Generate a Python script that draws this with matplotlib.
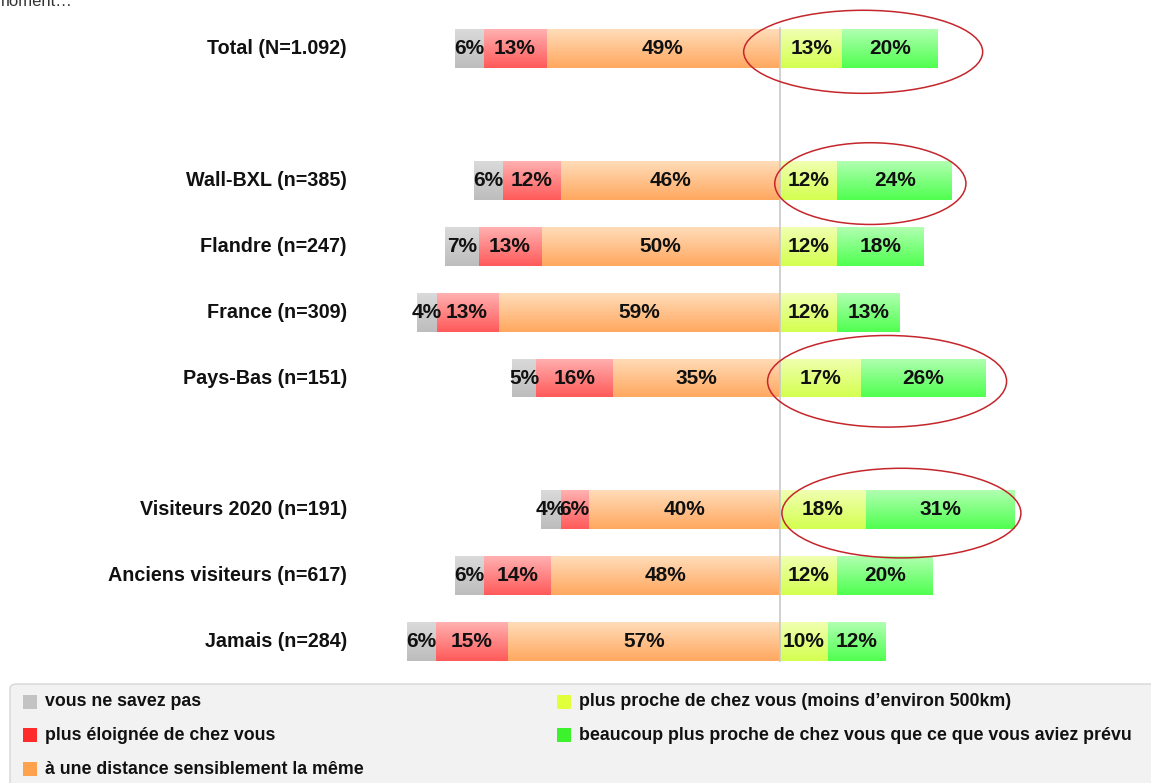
import numpy as np
import matplotlib
matplotlib.use("Agg")
import matplotlib.pyplot as plt
from matplotlib.colors import LinearSegmentedColormap
from matplotlib.patches import Ellipse, FancyBboxPatch, Rectangle

plt.rcParams['font.family'] = ['Liberation Sans', 'DejaVu Sans']

# données
groupes = ["Total (N=1.092)", "Wall-BXL (n=385)", "Flandre (n=247)", "France (n=309)",
           "Pays-Bas (n=151)", "Visiteurs 2020 (n=191)", "Anciens visiteurs (n=617)",
           "Jamais (n=284)"]
rangs = [0, 2, 3, 4, 5, 7, 8, 9]
ne_sait_pas = [6, 6, 7, 4, 5, 4, 6, 6]
plus_eloignee = [13, 12, 13, 13, 16, 6, 14, 15]
meme_distance = [49, 46, 50, 59, 35, 40, 48, 57]
plus_proche = [13, 12, 12, 12, 17, 18, 12, 10]
beaucoup_plus_proche = [20, 24, 18, 13, 26, 31, 20, 12]

legende = ["vous ne savez pas", "plus éloignée de chez vous",
           "à une distance sensiblement la même",
           "plus proche de chez vous (moins d\u2019environ 500km)",
           "beaucoup plus proche de chez vous que ce que vous aviez prévu"]

# rangs entourés en rouge et taille des ellipses
cercles_rangs = [0, 2, 5, 7]
cercles_larg = [50, 40, 50, 50]
cercles_haut = [1.26, 1.24, 1.39, 1.36]

# couleurs: (haut, bas) du dégradé, couleur de légende
degrades = [("#dadada", "#bdbdbd"), ("#ffb0b0", "#ff5a5a"), ("#ffdcb8", "#ffa860"),
            ("#f0ffb0", "#d4ff50"), ("#b0ffb0", "#50ff50")]
leg_couleurs = ["#c3c3c3", "#ff2a2a", "#ffa24e", "#e2ff3c", "#3cf22c"]

W, H = 1151, 783
fig = plt.figure(figsize=(W / 100, H / 100), dpi=100)

px_per = 4.78
x0 = 780
row_px = 65.9
y0 = 48.5
ax = fig.add_axes([360 / W, 1 - 670 / H, (W - 360) / W, 670 / H])
ax.set_xlim((360 - x0) / px_per, (W - x0) / px_per)
ax.set_ylim((670 - y0) / row_px, -y0 / row_px)
ax.axis('off')

y = np.array(rangs, dtype=float)
h = 0.59
gauche = [np.array(ne_sait_pas), np.array(plus_eloignee), np.array(meme_distance)]
droite = [np.array(plus_proche), np.array(beaucoup_plus_proche)]

grad = np.linspace(0, 1, 50).reshape(-1, 1)


def barres(starts, widths, k):
    cmap = LinearSegmentedColormap.from_list("c%d" % k, degrades[k])
    bars = ax.barh(y, widths, left=starts, height=h, color=degrades[k][1], linewidth=0)
    for b in bars:
        bx, by = b.get_x(), b.get_y()
        bw, bh = b.get_width(), b.get_height()
        im = ax.imshow(grad, cmap=cmap, aspect='auto', extent=(bx, bx + bw, by + bh, by),
                       zorder=2, interpolation='bilinear')
        im.set_clip_path(b)
    for yy, s, w in zip(y, starts, widths):
        ax.text(s + w / 2, yy, "%d%%" % w, ha='center', va='center', fontsize=15,
                fontweight='bold', color='#111111', zorder=4)


# gauche: orange au centre, puis rouge, puis gris
pos = np.zeros(len(y))
pos = pos - gauche[2]
barres(pos.copy(), gauche[2], 2)
pos = pos - gauche[1]
barres(pos.copy(), gauche[1], 1)
pos = pos - gauche[0]
barres(pos.copy(), gauche[0], 0)

pos = np.zeros(len(y))
barres(pos.copy(), droite[0], 3)
pos = pos + droite[0]
barres(pos.copy(), droite[1], 4)

ax.plot([0, 0], [-0.31, 9.3], color='#c8c8c8', lw=1.2, zorder=3)

for yy, lab in zip(y, groupes):
    ax.text((347 - x0) / px_per, yy, lab, ha='right', va='center', fontsize=14.2,
            fontweight='bold', color='#111111')

droite_tot = dict(zip(rangs, np.array(plus_proche) + np.array(beaucoup_plus_proche)))
for r, wdt, ht in zip(cercles_rangs, cercles_larg, cercles_haut):
    e = Ellipse((droite_tot[r] / 2 + 0.9, r + 0.05), wdt, ht, fill=False,
                edgecolor='#c4262b', lw=1.1, zorder=5)
    ax.add_patch(e)

fig.text(-4 / W, 1 - 1 / H, "moment\u2026", ha='left', va='center', fontsize=12, color='#333333')

# légende
box = FancyBboxPatch((10 / W, -0.02), (W + 20) / W, (H - 684) / H + 0.02,
                     boxstyle="round,pad=0,rounding_size=0.006", transform=fig.transFigure,
                     facecolor='#f2f2f2', edgecolor='#d6d6d6', lw=1)
fig.patches.append(box)
leg_pos = [(23, 702), (23, 735), (23, 769), (557, 702), (557, 735)]
for (lx, ly), lab, c in zip(leg_pos, legende, leg_couleurs):
    fig.patches.append(Rectangle((lx / W, 1 - (ly + 7) / H), 14 / W, 14 / H,
                                 transform=fig.transFigure, facecolor=c, edgecolor='none'))
    fig.text((lx + 22) / W, 1 - ly / H, lab, ha='left', va='center', fontsize=12.8,
             fontweight='bold', color='#111111')

fig.savefig("out.png", dpi=100)
